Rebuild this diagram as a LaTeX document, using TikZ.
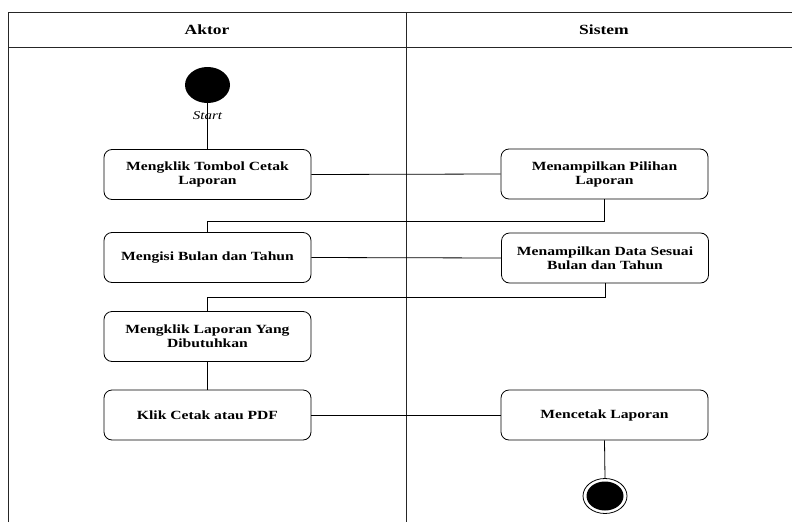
\documentclass[tikz,border=0pt]{standalone}
\usepackage{fontspec}
\setmainfont[FakeStretch=1.25]{Liberation Serif}
\usetikzlibrary{shapes.geometric}
\begin{document}
\begin{tikzpicture}[x=1pt,y=-1pt,
  lane/.style={line width=0.9pt, draw=black!85},
  act/.style={draw, line width=0.8pt, rounded corners=8pt, minimum width=207pt, minimum height=50pt, align=center, font=\fontsize{12.5}{14}\selectfont\bfseries, inner sep=2pt},
  head/.style={font=\fontsize{14}{16}\selectfont\bfseries},
  conn/.style={line width=0.8pt},
  initial/.style={ellipse, fill=black, minimum width=45pt, minimum height=36pt, inner sep=0pt},
  finalo/.style={ellipse, draw, line width=0.8pt, minimum width=44pt, minimum height=35pt, inner sep=0pt},
  finali/.style={ellipse, fill=black, minimum width=37pt, minimum height=29pt, inner sep=0pt}]
\useasboundingbox (0,0) rectangle (792,522);
% swimlanes
\draw[lane] (8,522) -- (8,12) -- (792,12);
\draw[lane] (8,47) -- (792,47);
\draw[lane] (406,12) -- (406,522);
\node[head] (h1) at (207,30) {Aktor};
\node[head] (h2) at (604,30) {Sistem};
% nodes
\node[initial] (start) at (207.5,85) {};
\node[act] (b1) at (207.5,174.5) {Mengklik Tombol Cetak\\Laporan};
\node[act] (s1) at (604.5,174) {Menampilkan Pilihan\\Laporan};
\node[act] (b2) at (207.5,257.5) {Mengisi Bulan dan Tahun};
\node[act] (s2) at (605,258) {Menampilkan Data Sesuai\\Bulan dan Tahun};
\node[act] (b3) at (207.5,336.5) {Mengklik Laporan Yang\\Dibutuhkan};
\node[act] (b4) at (207.5,415) {Klik Cetak atau PDF};
\node[act] (s3) at (604.5,415) {Mencetak Laporan};
\node[finalo] (endo) at (605,496) {};
\node[finali] (end) at (605,496) {};
\coordinate (j1) at (0,221);
\coordinate (j2) at (0,297);
% connectors
\draw[conn] (start) -- (b1.north);
\node[font=\fontsize{12}{14}\selectfont\itshape] (startlbl) at (207.5,116) {Start};
\draw[conn] (b1.east) -- (s1.west);
\draw[conn] (s1.south) -- (s1.south |- j1) -| (b2.north);
\draw[conn] (b2.east) -- (s2.west);
\draw[conn] (s2.south) -- (s2.south |- j2) -| (b3.north);
\draw[conn] (b3.south) -- (b4.north);
\draw[conn] (b4.east) -- (s3.west);
\draw[conn] (s3.south) -- (endo.north);
\end{tikzpicture}
\end{document}
